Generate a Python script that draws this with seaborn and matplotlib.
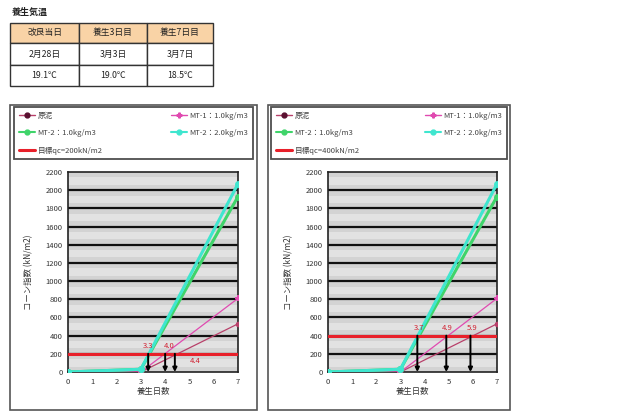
import numpy as np
import pandas as pd
import matplotlib
matplotlib.use("Agg")
import matplotlib.pyplot as plt
import seaborn as sns
from matplotlib.patches import Rectangle
from matplotlib.lines import Line2D

sns.set_theme(style="white")
plt.rcParams['font.family'] = ['Noto Sans CJK JP', 'DejaVu Sans']

# ---- data ----
table_title = "養生気温"
table_headers = ["改良当日", "養生3日目", "養生7日目"]
table_dates = ["2月28日", "3月3日", "3月7日"]
table_temps = ["19.1℃", "19.0℃", "18.5℃"]

days = [0, 3, 7]
series_names = ["原泥", "MT-1：1.0kg/m3", "MT-2：1.0kg/m3", "MT-2：2.0kg/m3"]
genei = [0, 0, 530]
mt1_10 = [0, 0, 810]
mt2_10 = [0, 30, 1930]
mt2_20 = [0, 30, 2070]

targets = [200, 400]
target_labels = ["目標qc=200kN/m2", "目標qc=400kN/m2"]
cross_left = [3.3, 4.0, 4.4]
cross_right = [3.7, 4.9, 5.9]

x_ticks = [0, 1, 2, 3, 4, 5, 6, 7]
y_ticks = [0, 200, 400, 600, 800, 1000, 1200, 1400, 1600, 1800, 2000, 2200]

colors = {"原泥": "#b8406a", "MT-1：1.0kg/m3": "#e04ab0",
          "MT-2：1.0kg/m3": "#3fd46a", "MT-2：2.0kg/m3": "#3fe6cf"}
markers = {"原泥": "o", "MT-1：1.0kg/m3": "P",
           "MT-2：1.0kg/m3": "o", "MT-2：2.0kg/m3": "o"}

rows = []
for name, vals in zip(series_names, [genei, mt1_10, mt2_10, mt2_20]):
    for d, v in zip(days, vals):
        rows.append({"day": d, "qc": v, "series": name})
df = pd.DataFrame(rows)

W, H = 643, 416
fig = plt.figure(figsize=(W / 100, H / 100), dpi=100)

def fx(px):
    return px / W

def fy(py):
    return 1 - py / H

# ---- table ----
fig.text(fx(12), fy(12), table_title, fontsize=6.5, fontweight="bold",
         va="center", ha="left", color="#222222")
col_edges = [10, 79, 147, 213]
row_edges = [23, 43, 65, 86]
for r in range(3):
    for c in range(3):
        x0, x1 = col_edges[c], col_edges[c + 1]
        y0, y1 = row_edges[r], row_edges[r + 1]
        fc = "#f9d3a6" if r == 0 else "white"
        fig.patches.append(Rectangle((fx(x0), fy(y1)), fx(x1 - x0), (y1 - y0) / H,
                                     transform=fig.transFigure, facecolor=fc,
                                     edgecolor="#333333", lw=1.0))
        txt = [table_headers, table_dates, table_temps][r][c]
        fig.text(fx((x0 + x1) / 2), fy((y0 + y1) / 2), txt, fontsize=6.3,
                 ha="center", va="center", color="#222222")

# ---- charts ----
panels = [
    dict(box=(10, 105, 257, 410), leg=(14, 107, 253, 163), ax=(68, 172, 238, 372),
         target=targets[0], tlabel=target_labels[0], cross=cross_left,
         lab_pos=[(3.1, 1, "bottom"), (3.95, 1, "bottom"), (5.0, -1, "top")]),
    dict(box=(268, 105, 510, 410), leg=(271, 107, 507, 163), ax=(328, 172, 497, 372),
         target=targets[1], tlabel=target_labels[1], cross=cross_right,
         lab_pos=[(3.55, 1, "bottom"), (4.7, 1, "bottom"), (5.75, 1, "bottom")]),
]

for p in panels:
    bx0, by0, bx1, by1 = p["box"]
    fig.patches.append(Rectangle((fx(bx0), fy(by1)), fx(bx1 - bx0), (by1 - by0) / H,
                                 transform=fig.transFigure, facecolor="white",
                                 edgecolor="#555555", lw=1.2, zorder=-5))
    ax0, ay0, ax1, ay1 = p["ax"]
    ax = fig.add_axes([fx(ax0), fy(ay1), fx(ax1 - ax0), (ay1 - ay0) / H])
    ax.set_facecolor("#d3d3d3")
    for yv in y_ticks[:-1]:
        ax.axhspan(yv + 60, yv + 140, color="#e2e2e2", lw=0, zorder=0)
    for yv in y_ticks[1:-1]:
        ax.axhline(yv, color="#111111", lw=1.6, zorder=1)

    sns.lineplot(data=df, x="day", y="qc", hue="series", style="series",
                 hue_order=series_names, style_order=series_names,
                 palette=colors, markers=markers,
                 dashes=False, ax=ax, legend=False, lw=1.0, markersize=4,
                 markeredgewidth=0, zorder=3)
    for line, name in zip(ax.get_lines()[-4:], series_names):
        if name.startswith("MT-2"):
            line.set_linewidth(2.2)
            line.set_markersize(5)
        else:
            line.set_linewidth(0.9)

    ax.axhline(p["target"], color="#e8202a", lw=2.2, zorder=4)

    for (cx, (lx, sgn, va)) in zip(p["cross"], p["lab_pos"]):
        ax.annotate("", xy=(cx, 0), xytext=(cx, p["target"]),
                    arrowprops=dict(arrowstyle="-|>", color="black", lw=1.4,
                                    mutation_scale=6, shrinkA=0, shrinkB=0),
                    zorder=5)
        ax.text(lx, p["target"] + sgn * 40, f"{cx:.1f}", fontsize=5.5,
                color="#d02030", ha="left", va=va, zorder=6)

    ax.set_xlim(0, 7)
    ax.set_ylim(0, 2200)
    ax.set_xticks(x_ticks)
    ax.set_yticks(y_ticks)
    ax.set_yticklabels([str(v) for v in y_ticks])
    ax.tick_params(labelsize=5.5, length=0, pad=4, colors="#333333")
    ax.set_xlabel("養生日数", fontsize=6, labelpad=1, color="#333333")
    ax.set_ylabel("コーン指数 (kN/m2)", fontsize=6, labelpad=9, color="#333333")
    for s in ax.spines.values():
        s.set_color("#222222")
        s.set_linewidth(1.2)

    h = {}
    for name in series_names:
        mc = "#5a1030" if name == "原泥" else colors[name]
        h[name] = Line2D([], [], color=colors[name], marker=markers[name],
                         lw=1.5 if name.startswith("MT-2") else 1.0, markersize=3.5,
                         markeredgecolor=mc, markerfacecolor=mc)
    ht = Line2D([], [], color="#e8202a", lw=2.2)
    handles = [h["原泥"], h["MT-2：1.0kg/m3"], ht, h["MT-1：1.0kg/m3"], h["MT-2：2.0kg/m3"]]
    labels = ["原泥", "MT-2：1.0kg/m3", p["tlabel"], "MT-1：1.0kg/m3", "MT-2：2.0kg/m3"]
    lx0, ly0, lx1, ly1 = p["leg"]
    leg = ax.legend(handles, labels, ncol=2, loc="upper left",
                    bbox_to_anchor=(fx(lx0), fy(ly1), fx(lx1 - lx0), (ly1 - ly0) / H),
                    bbox_transform=fig.transFigure, mode="expand", fontsize=5.5,
                    frameon=True, fancybox=False, handlelength=2.2,
                    handletextpad=0.3, labelspacing=1.25, borderaxespad=0,
                    borderpad=0.6, columnspacing=1.0)
    leg.get_frame().set_edgecolor("#222222")
    leg.get_frame().set_linewidth(1.3)
    for t in leg.get_texts():
        t.set_color("#444444")

fig.savefig("out.png", dpi=100)
